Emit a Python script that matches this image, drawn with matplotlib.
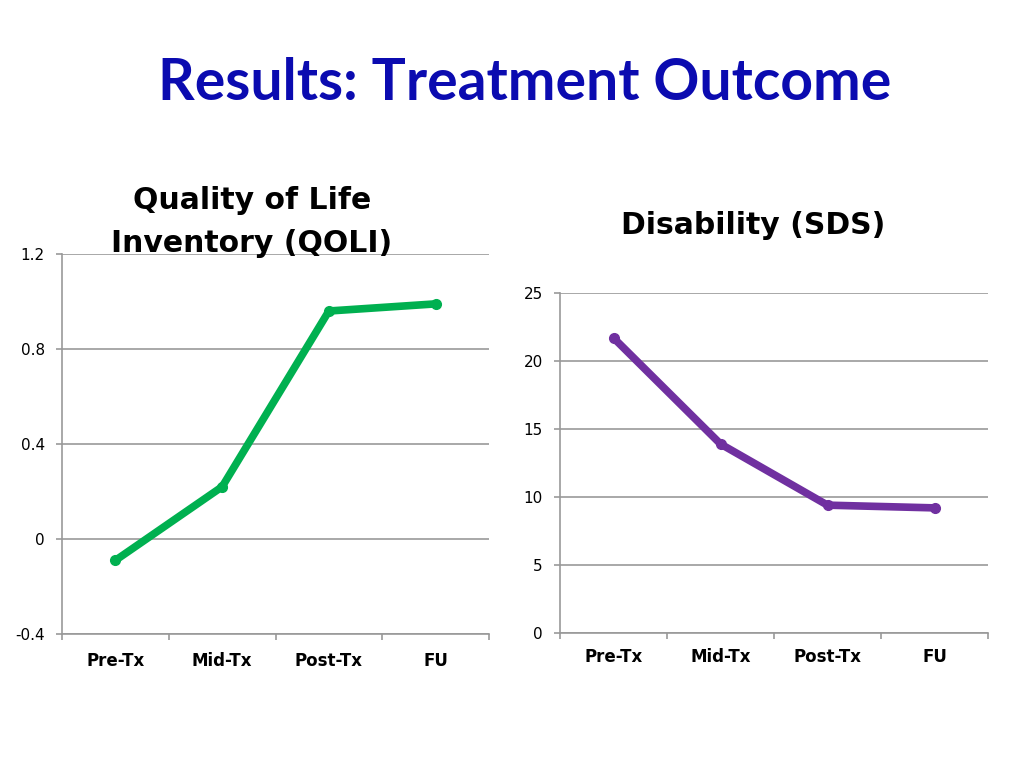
import matplotlib
matplotlib.use("Agg")
import matplotlib.pyplot as plt

plt.rcParams['font.family'] = ['DejaVu Sans']

categories = ['Pre-Tx', 'Mid-Tx', 'Post-Tx', 'FU']
qoli = [-0.09, 0.22, 0.96, 0.99]
sds = [21.7, 13.9, 9.4, 9.2]
qoli_ticks = [-0.4, 0, 0.4, 0.8, 1.2]
qoli_labels = ['-0.4', '0', '0.4', '0.8', '1.2']
sds_ticks = [0, 5, 10, 15, 20, 25]

W, H = 1024, 768
fig = plt.figure(figsize=(W / 100, H / 100), dpi=100)
fig.patch.set_facecolor('white')


def style_axes(ax, yticks, ylabels, ylim):
    x = range(len(categories))
    ax.set_xlim(-0.5, len(categories) - 0.5)
    ax.set_ylim(*ylim)
    ax.set_yticks(yticks)
    ax.set_yticklabels(ylabels, fontsize=11)
    ax.set_xticks(list(x))
    ax.set_xticklabels(categories, fontsize=12, fontweight='bold')
    ax.tick_params(axis='x', length=0, pad=13)
    ax.set_xticks([i - 0.5 for i in range(len(categories) + 1)], minor=True)
    ax.tick_params(axis='x', which='minor', length=4.5, color='#999999', width=1.2)
    ax.tick_params(axis='y', length=4.5, color='#999999', width=1.2, pad=8)
    ax.grid(axis='y', color='#999999', linewidth=1.2)
    ax.set_axisbelow(True)
    for s in ['top', 'right']:
        ax.spines[s].set_visible(False)
    for s in ['left', 'bottom']:
        ax.spines[s].set_color('#999999')
        ax.spines[s].set_linewidth(1.2)


# QOLI chart
ax1 = fig.add_axes([62 / W, (H - 634) / H, 427 / W, 380 / H])
style_axes(ax1, qoli_ticks, qoli_labels, (-0.4, 1.2))
ax1.plot(range(len(categories)), qoli, color='#00B050', linewidth=5.5,
         marker='o', markersize=7, solid_capstyle='round')

# SDS chart
ax2 = fig.add_axes([560 / W, (H - 633) / H, 428 / W, 340 / H])
style_axes(ax2, sds_ticks, [str(t) for t in sds_ticks], (0, 25))
ax2.plot(range(len(categories)), sds, color='#7030A0', linewidth=5.5,
         marker='o', markersize=7, solid_capstyle='round')
ax2.tick_params(axis='x', pad=11)

# titles
fig.text(525 / W, 1 - 83 / H, 'Results: Treatment Outcome', ha='center', va='center',
         fontsize=41, fontweight='bold', color='#0B0BB0', family='Lato')
fig.text(252 / W, 1 - 222 / H, 'Quality of Life\nInventory (QOLI)', ha='center', va='center',
         fontsize=21.5, fontweight='bold', color='black', linespacing=1.65)
fig.text(753 / W, 1 - 225 / H, 'Disability (SDS)', ha='center', va='center',
         fontsize=21.5, fontweight='bold', color='black')

fig.savefig('out.png', dpi=100)
